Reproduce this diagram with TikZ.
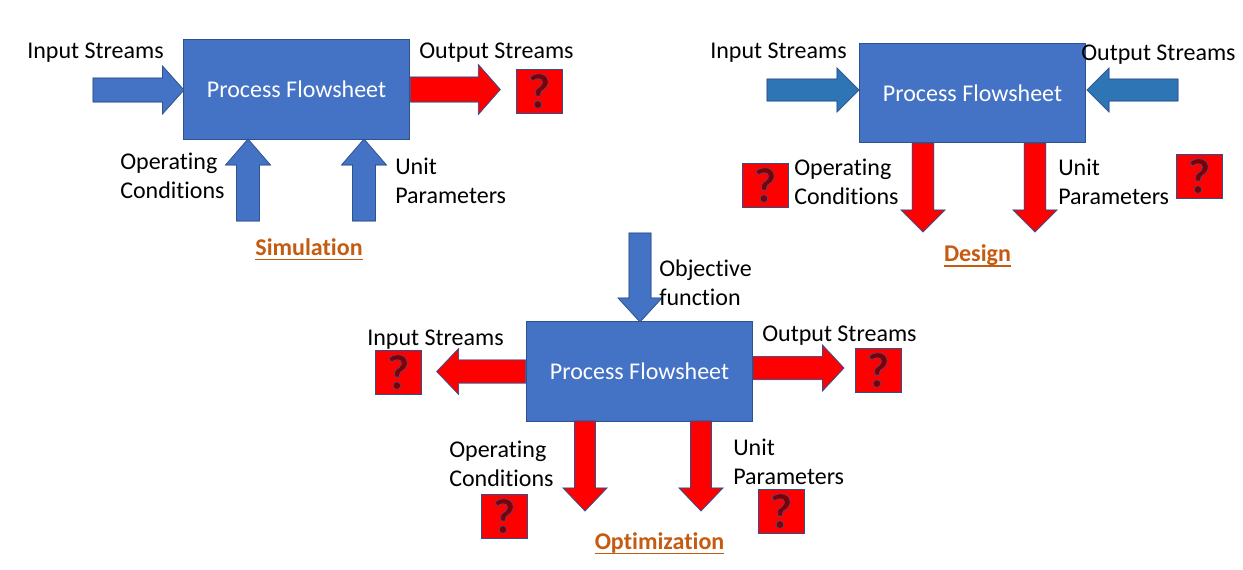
\documentclass[tikz,border=0pt]{standalone}
\usepackage{fontspec}
\setmainfont{Carlito}[Ligatures=NoCommon]
\definecolor{boxblue}{HTML}{4472C4}
\definecolor{edgeblue}{HTML}{2F528F}
\definecolor{darkblue}{HTML}{2E75B6}
\definecolor{qmark}{HTML}{7F0000}
\definecolor{heading}{HTML}{C55A11}
\newcommand{\flowarrow}[7]{% style, tail, angle, length, shaft half, head half, head length
  \begin{scope}[shift={#2},rotate=#3]
    \fill[#1] (0,-#5) -- (#4-#7,-#5) -- (#4-#7,-#6) -- (#4,0) -- (#4-#7,#6) -- (#4-#7,#5) -- (0,#5) -- cycle;
    \draw[#1,fill=none,draw opacity=.55,line width=.6pt] (0,-#5) -- (#4-#7,-#5) -- (#4-#7,-#6) -- (#4,0) -- (#4-#7,#6) -- (#4-#7,#5) -- (0,#5) -- cycle;
  \end{scope}}
\newcommand{\stroked}[1]{\special{pdf:code 2 Tr 0.45 w 0.25 0.32 0.6 RG}#1\special{pdf:code 0 Tr}}
\newcommand{\headline}[1]{\setbox0\hbox{#1}\rlap{\raisebox{-4.1pt}{\rule{\wd0}{1.4pt}}}\box0}
\tikzset{
  x=0.75pt,y=-0.75pt,
  process/.style={draw=edgeblue,fill=boxblue,line width=.75pt,minimum width=170pt,minimum height=74.5pt,inner sep=0pt,text=white,font=\fontsize{18pt}{19pt}\selectfont},
  label/.style={anchor=north west,inner sep=0pt,align=left,font=\fontsize{18pt}{21.6pt}\selectfont},
  qbox/.style={draw=edgeblue,fill=red,line width=.75pt,minimum width=34.5pt,minimum height=33pt,inner sep=0pt,text=qmark,font=\bfseries\fontsize{37pt}{37pt}\selectfont},
  heading/.style={anchor=base,inner sep=0pt,text=heading,font=\bfseries\fontsize{18pt}{19pt}\selectfont},
  bluearrow/.style={fill=boxblue,draw=edgeblue},
  tealarrow/.style={fill=darkblue,draw=edgeblue},
  redarrow/.style={fill=red,draw=edgeblue},
}
\begin{document}
\begin{tikzpicture}
\useasboundingbox (0,0) rectangle (1243,569);
% boxes
\node[process] (sim) at (296.5,89.5) {Process Flowsheet};
\node[process] (des) at (972.5,93) {Process Flowsheet};
\node[process] (opt) at (639.5,371.5) {Process Flowsheet};
% simulation arrows
\flowarrow{bluearrow}{(93,90)}{0}{91}{12}{24}{21.5}
\flowarrow{redarrow}{(sim.east)}{0}{90}{12.5}{25}{22}
\flowarrow{bluearrow}{(248,221)}{90}{82}{11.5}{22.5}{26}
\flowarrow{bluearrow}{(364,221)}{90}{82}{11.5}{22.5}{26}
% design arrows
\flowarrow{tealarrow}{(767,90)}{0}{92}{11}{22}{22}
\flowarrow{tealarrow}{(1178,90)}{180}{91}{11}{22}{22}
\flowarrow{redarrow}{(923,143)}{-90}{89}{10.8}{22}{22}
\flowarrow{redarrow}{(1035,143)}{-90}{89}{10.8}{22}{22}
% optimization arrows
\flowarrow{bluearrow}{(640,233)}{-90}{89}{11}{22}{24}
\flowarrow{redarrow}{(opt.west)}{180}{89}{11.6}{23}{22}
\flowarrow{redarrow}{(753,368)}{0}{91}{11.6}{23}{21.5}
\flowarrow{redarrow}{(585,421)}{-90}{90}{10.5}{22}{23}
\flowarrow{redarrow}{(701,421)}{-90}{90}{10.5}{22}{23}
% unknown boxes
\node[qbox] (q1) at (539,91) {\stroked{?}};
\node[qbox] (q2) at (765,185) {\stroked{?}};
\node[qbox] (q3) at (1199,176) {\stroked{?}};
\node[qbox] (q4) at (398,372) {\stroked{?}};
\node[qbox] (q5) at (878,370) {\stroked{?}};
\node[qbox] (q6) at (504,516) {\stroked{?}};
\node[qbox] (q7) at (781,511) {\stroked{?}};
% labels
\node[label] (l1) at (27,42.5) {Input Streams};
\node[label] (l2) at (419,42.5) {Output Streams};
\node[label] (l3) at (120,153) {Operating\\Conditions};
\node[label] (l4) at (395,158) {Unit\\Parameters};
\node[label] (l5) at (710,42.5) {Input Streams};
\node[label] (l6) at (1081,44.5) {Output Streams};
\node[label] (l7) at (794,159) {Operating\\Conditions};
\node[label] (l8) at (1058,159) {Unit\\Parameters};
\node[label] (l9) at (659,260) {Objective\\function};
\node[label] (l10) at (367,329.5) {Input Streams};
\node[label] (l11) at (762,325.5) {Output Streams};
\node[label] (l12) at (449,441) {Operating\\Conditions};
\node[label] (l13) at (733,439) {Unit\\Parameters};
% headings
\node[heading] (h1) at (309,255) {\headline{Simulation}};
\node[heading] (h2) at (977.5,261.5) {\headline{Design}};
\node[heading] (h3) at (659.5,549) {\headline{Optimization}};
\end{tikzpicture}
\end{document}
